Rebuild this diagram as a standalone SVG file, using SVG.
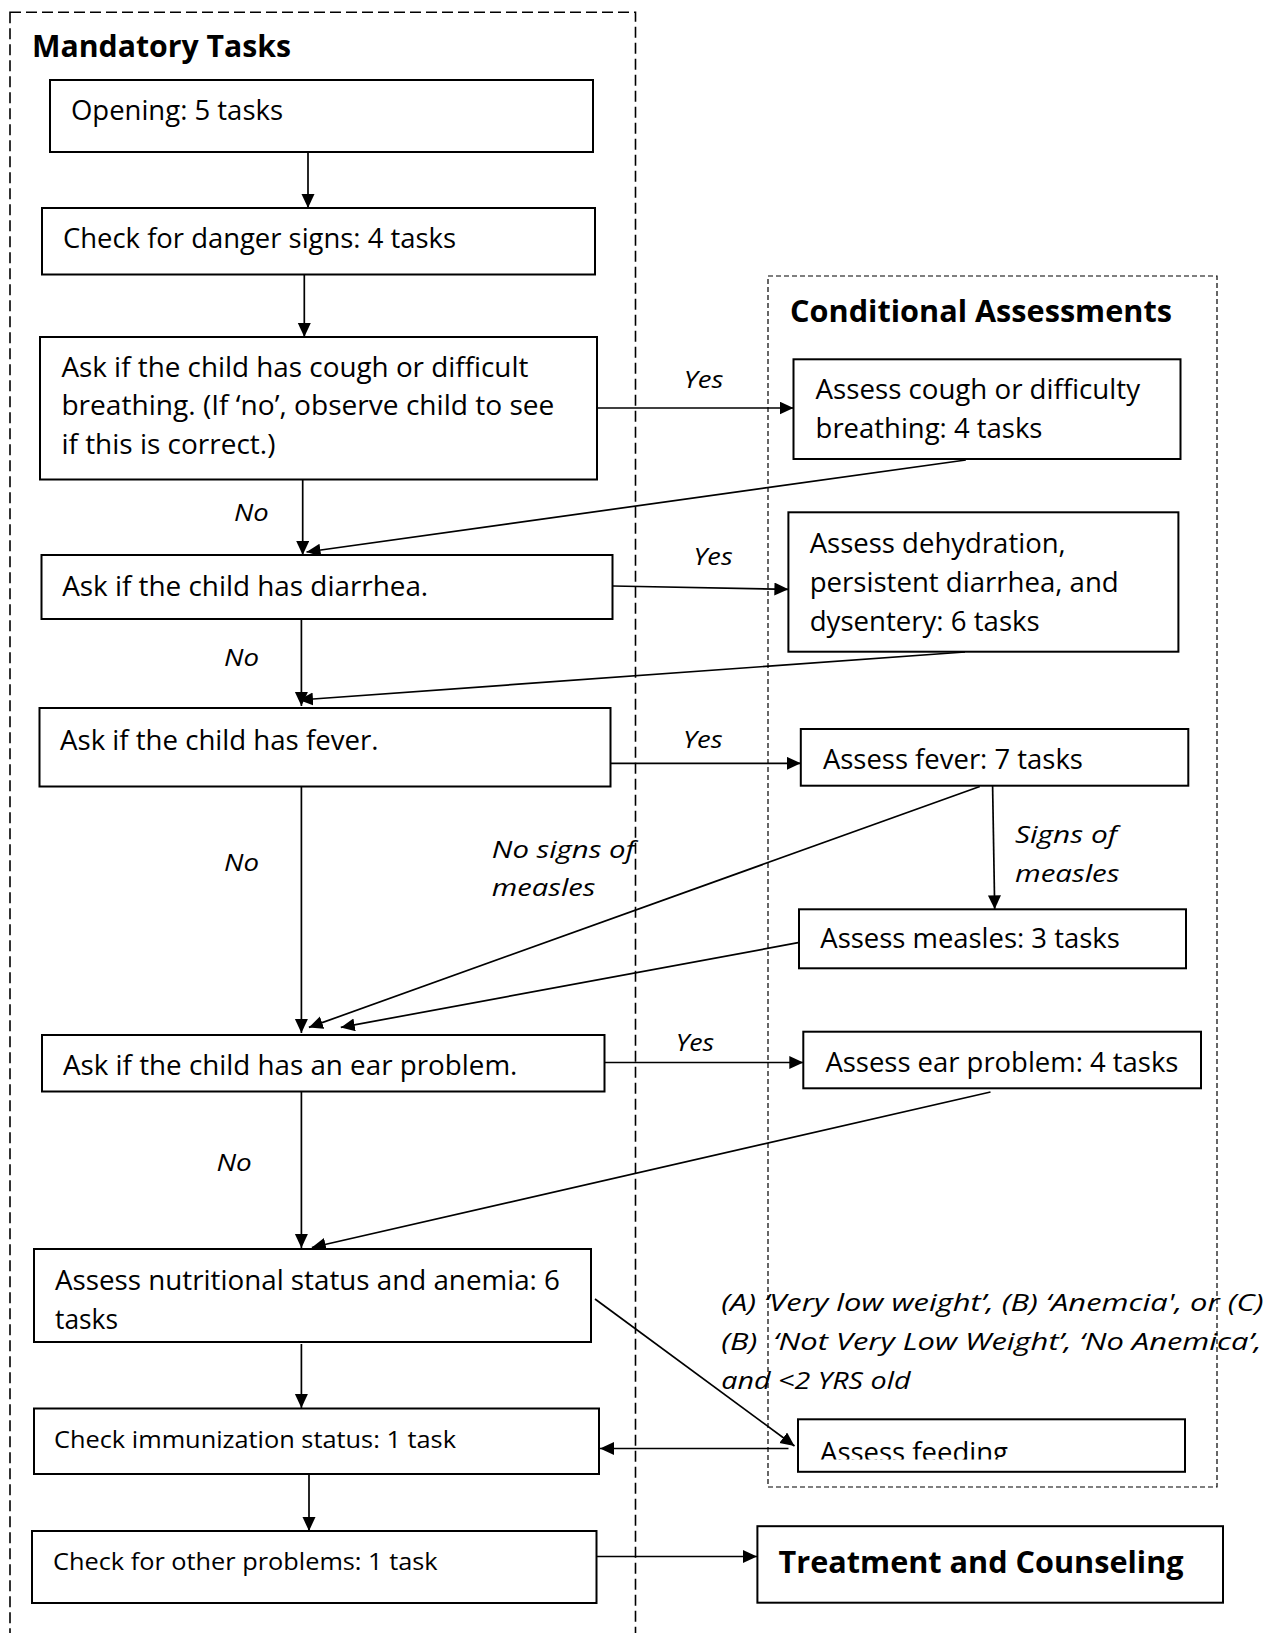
<svg xmlns="http://www.w3.org/2000/svg" width="1267" height="1633" viewBox="0 0 1267 1633">
<style>
.box{fill:#fff;stroke:#000;stroke-width:2}
.t{font-family:"Open Sans","Liberation Sans",sans-serif;font-size:27px;fill:#000}
.ts{font-family:"Open Sans","Liberation Sans",sans-serif;font-size:24.5px;fill:#000}
.lb{font-family:"Open Sans","Liberation Sans",sans-serif;font-size:24.5px;font-style:italic;fill:#000}
.hd{font-family:"Open Sans","Liberation Sans",sans-serif;font-size:31px;font-weight:bold;fill:#000}
.c{fill:none;stroke:#000;stroke-width:1.7;marker-end:url(#ah)}
.grp1{fill:none;stroke:#000;stroke-width:1.6;stroke-dasharray:11 5}
.grp2{fill:none;stroke:#000;stroke-width:1.2;stroke-dasharray:5 3}
</style>
<defs>
<marker id="ah" markerUnits="userSpaceOnUse" markerWidth="15" markerHeight="14" refX="14" refY="6.5" orient="auto">
<path d="M0,0 L14,6.5 L0,13 z" fill="#000"/>
</marker>
<clipPath id="fclip"><rect x="798" y="1419" width="387" height="40.5"/></clipPath>
</defs>
<rect width="1267" height="1633" fill="#fff"/>

<g id="mandatory-group">
<rect class="grp1" x="10" y="12.3" width="625.5" height="1700"/>
<text class="hd" x="32" y="57" textLength="259" lengthAdjust="spacingAndGlyphs">Mandatory Tasks</text>
</g>
<g id="conditional-group">
<rect class="grp2" x="768" y="276" width="449" height="1211"/>
<text class="hd" x="790" y="321.7" textLength="382" lengthAdjust="spacingAndGlyphs">Conditional Assessments</text>
</g>

<g id="connectors">
<line class="c" x1="308" y1="152" x2="308" y2="208"/>
<line class="c" x1="304.3" y1="274.5" x2="304.3" y2="337"/>
<line class="c" x1="302.7" y1="479.5" x2="302.7" y2="555"/>
<line class="c" x1="597" y1="408" x2="793.5" y2="408"/>
<line class="c" x1="965.8" y1="460" x2="306.5" y2="552"/>
<line class="c" x1="612.8" y1="586" x2="788.4" y2="589.3"/>
<line class="c" x1="965" y1="652" x2="299" y2="700"/>
<line class="c" x1="301.4" y1="619" x2="301.4" y2="706"/>
<line class="c" x1="611" y1="763.3" x2="800.8" y2="763.3"/>
<line class="c" x1="992.6" y1="786" x2="994.7" y2="909.3"/>
<line class="c" x1="979.8" y1="786.5" x2="308.9" y2="1027.4"/>
<line class="c" x1="798.2" y1="942.7" x2="340.8" y2="1027.4"/>
<line class="c" x1="301.4" y1="786.5" x2="301.4" y2="1033"/>
<line class="c" x1="604.5" y1="1062.5" x2="803.3" y2="1062.5"/>
<line class="c" x1="990.5" y1="1092" x2="311.8" y2="1247.5"/>
<line class="c" x1="301.4" y1="1091.5" x2="301.4" y2="1248"/>
<line class="c" x1="301.4" y1="1344" x2="301.4" y2="1408"/>
<line class="c" x1="309" y1="1473" x2="309" y2="1531"/>
<line class="c" x1="595" y1="1299" x2="794.5" y2="1446"/>
<line class="c" x1="788.5" y1="1448.5" x2="600" y2="1448.5"/>
<line class="c" x1="597" y1="1556.5" x2="757" y2="1556.5"/>
</g>

<g id="labels">
<text class="lb" x="683.8" y="388" textLength="39.6" lengthAdjust="spacingAndGlyphs">Yes</text>
<text class="lb" x="693.6" y="565" textLength="39" lengthAdjust="spacingAndGlyphs">Yes</text>
<text class="lb" x="683" y="747.7" textLength="39.5" lengthAdjust="spacingAndGlyphs">Yes</text>
<text class="lb" x="675.7" y="1050.7" textLength="38.5" lengthAdjust="spacingAndGlyphs">Yes</text>
<text class="lb" x="234" y="521.4" textLength="34.7" lengthAdjust="spacingAndGlyphs">No</text>
<text class="lb" x="224" y="666" textLength="35" lengthAdjust="spacingAndGlyphs">No</text>
<text class="lb" x="224" y="871" textLength="35" lengthAdjust="spacingAndGlyphs">No</text>
<text class="lb" x="216.4" y="1171.4" textLength="35.3" lengthAdjust="spacingAndGlyphs">No</text>
<text class="lb" x="491.8" y="857.7" textLength="142.8" lengthAdjust="spacingAndGlyphs">No signs of</text>
<text class="lb" x="491.8" y="895.5" textLength="103.6" lengthAdjust="spacingAndGlyphs">measles</text>
<text class="lb" x="1015" y="843.3" textLength="102" lengthAdjust="spacingAndGlyphs">Signs of</text>
<text class="lb" x="1015" y="881.7" textLength="104.5" lengthAdjust="spacingAndGlyphs">measles</text>
<text class="lb" x="721.2" y="1310.9" textLength="542.3" lengthAdjust="spacingAndGlyphs">(A) ‘Very low weight’, (B) ‘Anemcia', or (C)</text>
<text class="lb" x="721.2" y="1350" textLength="540.2" lengthAdjust="spacingAndGlyphs" xml:space="preserve">(B)  ‘Not Very Low Weight’, ‘No Anemica’,</text>
<text class="lb" x="721.2" y="1389" textLength="189.3" lengthAdjust="spacingAndGlyphs">and &lt;2 YRS old</text>
</g>

<g id="n-opening">
<rect class="box" x="50" y="80" width="543" height="72"/>
<text class="t" x="71" y="120" textLength="212" lengthAdjust="spacingAndGlyphs">Opening: 5 tasks</text>
</g>
<g id="n-danger">
<rect class="box" x="42" y="208" width="553" height="66.5"/>
<text class="t" x="63" y="248" textLength="393" lengthAdjust="spacingAndGlyphs">Check for danger signs: 4 tasks</text>
</g>
<g id="n-cough">
<rect class="box" x="40" y="337" width="557" height="142.5"/>
<text class="t" x="61.4" y="376.7" textLength="467" lengthAdjust="spacingAndGlyphs">Ask if the child has cough or difficult</text>
<text class="t" x="61.4" y="415" textLength="493" lengthAdjust="spacingAndGlyphs">breathing. (If ‘no’, observe child to see</text>
<text class="t" x="61.4" y="454" textLength="214" lengthAdjust="spacingAndGlyphs">if this is correct.)</text>
</g>
<g id="n-diarrhea">
<rect class="box" x="41.5" y="555" width="571" height="64"/>
<text class="t" x="62.2" y="595.8" textLength="366" lengthAdjust="spacingAndGlyphs">Ask if the child has diarrhea.</text>
</g>
<g id="n-fever">
<rect class="box" x="39.5" y="708" width="571" height="78.5"/>
<text class="t" x="60.1" y="749.5" textLength="318.4" lengthAdjust="spacingAndGlyphs">Ask if the child has fever.</text>
</g>
<g id="n-ear">
<rect class="box" x="42" y="1035" width="562.5" height="56.5"/>
<text class="t" x="63" y="1074.6" textLength="454.4" lengthAdjust="spacingAndGlyphs">Ask if the child has an ear problem.</text>
</g>
<g id="n-nutrition">
<rect class="box" x="34" y="1249" width="557" height="93"/>
<text class="t" x="55" y="1290" textLength="505" lengthAdjust="spacingAndGlyphs">Assess nutritional status and anemia: 6</text>
<text class="t" x="55" y="1329.3" textLength="63" lengthAdjust="spacingAndGlyphs">tasks</text>
</g>
<g id="n-immunization">
<rect class="box" x="34" y="1408.5" width="565" height="65.5"/>
<text class="ts" x="54" y="1448.3" textLength="402" lengthAdjust="spacingAndGlyphs">Check immunization status: 1 task</text>
</g>
<g id="n-other">
<rect class="box" x="32" y="1531" width="564.5" height="72"/>
<text class="ts" x="53" y="1570" textLength="384.6" lengthAdjust="spacingAndGlyphs">Check for other problems: 1 task</text>
</g>

<g id="n-assess-cough">
<rect class="box" x="793.5" y="359.3" width="387" height="99.7"/>
<text class="t" x="815.6" y="399.3" textLength="324.4" lengthAdjust="spacingAndGlyphs">Assess cough or difficulty</text>
<text class="t" x="815.6" y="438.3" textLength="226.8" lengthAdjust="spacingAndGlyphs">breathing: 4 tasks</text>
</g>
<g id="n-assess-dehydration">
<rect class="box" x="788.4" y="512.3" width="390" height="139.4"/>
<text class="t" x="809.7" y="553.3" textLength="256" lengthAdjust="spacingAndGlyphs">Assess dehydration,</text>
<text class="t" x="809.7" y="592.3" textLength="309" lengthAdjust="spacingAndGlyphs">persistent diarrhea, and</text>
<text class="t" x="809.7" y="631" textLength="230" lengthAdjust="spacingAndGlyphs">dysentery: 6 tasks</text>
</g>
<g id="n-assess-fever">
<rect class="box" x="800.8" y="729" width="387.5" height="56.7"/>
<text class="t" x="822.9" y="769" textLength="260" lengthAdjust="spacingAndGlyphs">Assess fever: 7 tasks</text>
</g>
<g id="n-assess-measles">
<rect class="box" x="799" y="909.3" width="387" height="59"/>
<text class="t" x="820.3" y="948.3" textLength="299.5" lengthAdjust="spacingAndGlyphs">Assess measles: 3 tasks</text>
</g>
<g id="n-assess-ear">
<rect class="box" x="803.3" y="1031.7" width="397.7" height="56.6"/>
<text class="t" x="825.4" y="1071.7" textLength="353" lengthAdjust="spacingAndGlyphs">Assess ear problem: 4 tasks</text>
</g>
<g id="n-assess-feeding">
<rect class="box" x="798" y="1419.3" width="387" height="52.5"/>
<text class="t" x="820" y="1461.5" textLength="188" lengthAdjust="spacingAndGlyphs" clip-path="url(#fclip)">Assess feeding</text>
</g>
<g id="n-treatment">
<rect class="box" x="757.4" y="1526.2" width="465.6" height="76.5"/>
<text class="hd" x="778.6" y="1572.8" textLength="405" lengthAdjust="spacingAndGlyphs">Treatment and Counseling</text>
</g>
</svg>
